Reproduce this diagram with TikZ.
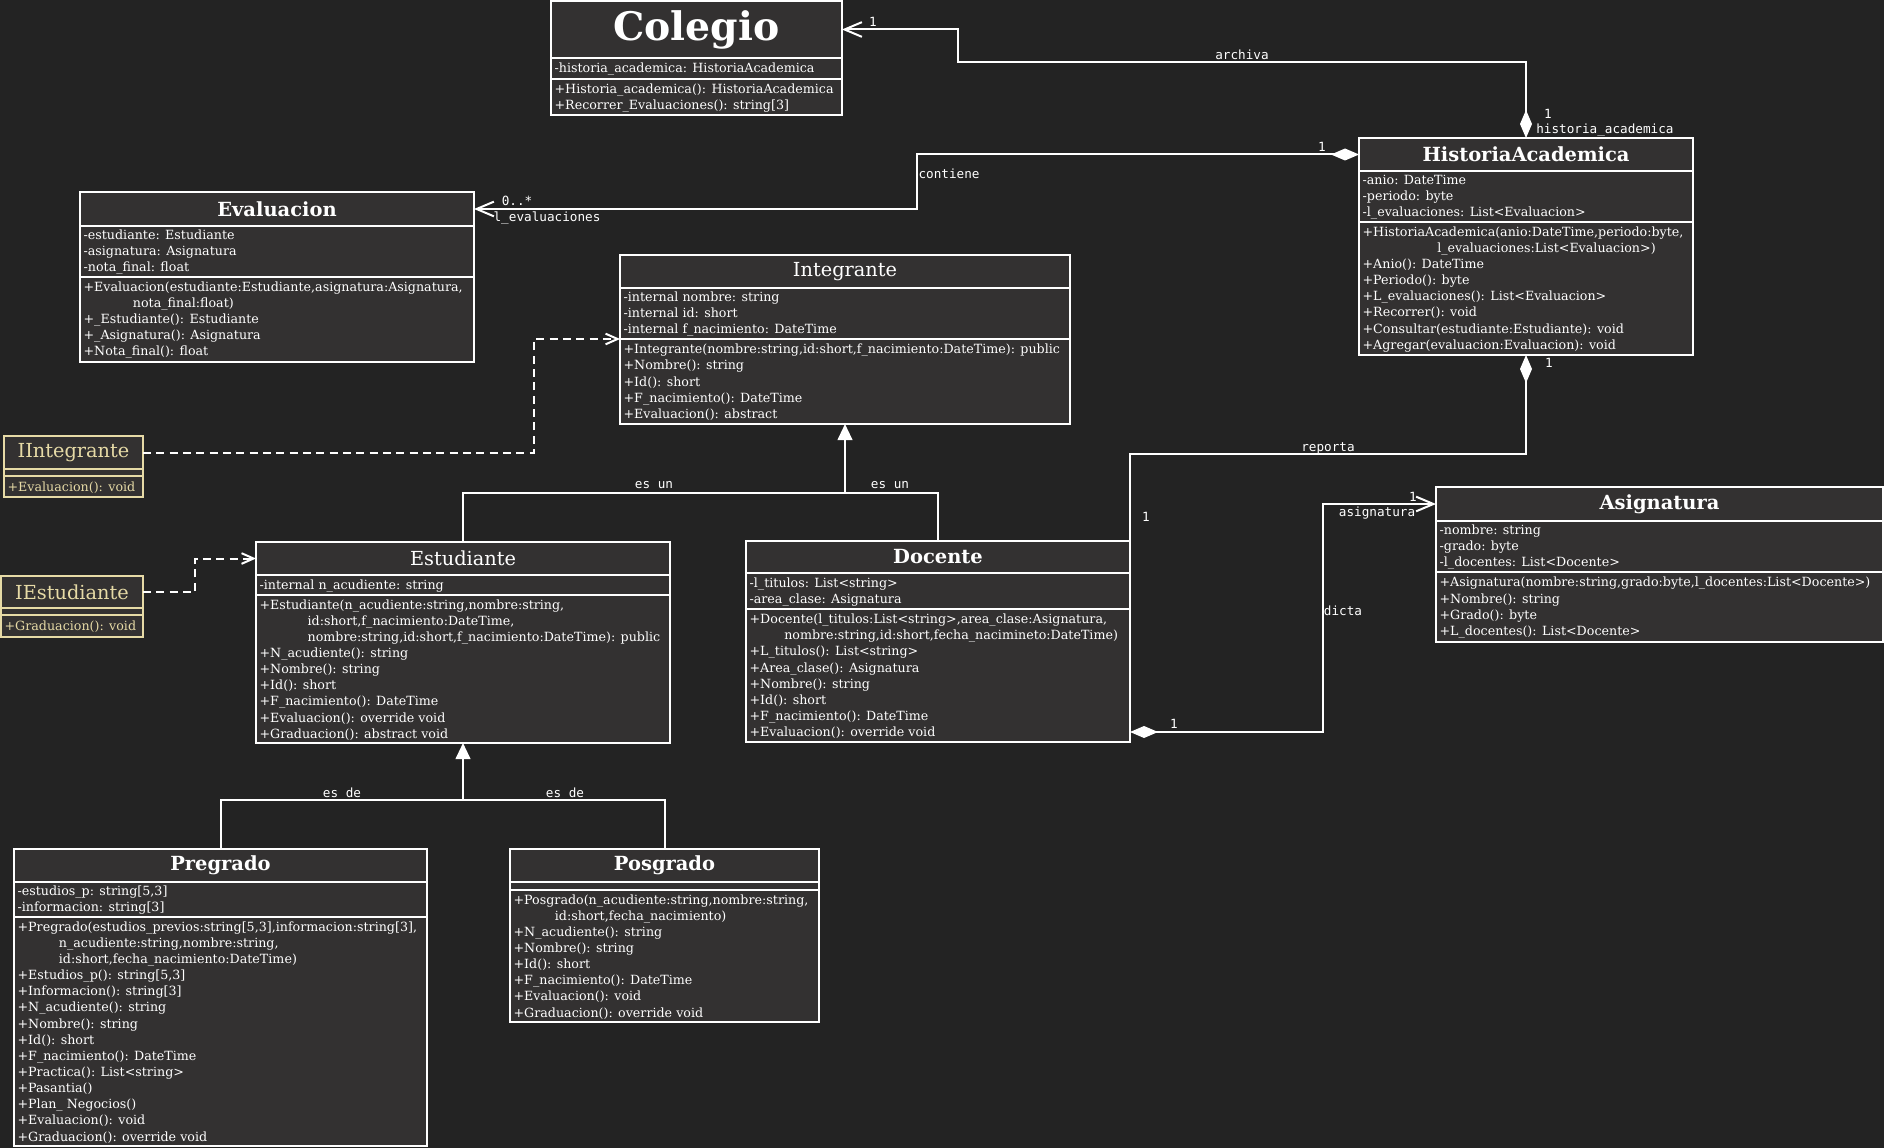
\documentclass[tikz,border=0pt]{standalone}
\usepackage{fontspec}
\setmainfont{DejaVu Serif}
\newfontfamily\monof{DejaVu Sans Mono}
\usetikzlibrary{arrows.meta,fit}
\definecolor{bgc}{HTML}{232323}
\definecolor{boxc}{HTML}{333131}
\definecolor{ifc}{HTML}{E6DAA6}
\newcommand\sect[6][white]{\node[sec, draw=#1, fit={(#3,#4) (#5,#6)}] (#2) {};}
\tikzset{
  sec/.style={fill=boxc, line width=1.5pt, inner sep=0pt, outer sep=0pt},
  mem/.style={anchor=west, align=left, inner sep=0pt, text=white, yshift=-0.6pt, font=\fontsize{9.5pt}{12.1pt}\selectfont},
  ttb/.style={text=white, inner sep=0pt, font=\fontsize{14.6pt}{16pt}\selectfont\bfseries},
  ttr/.style={text=white, inner sep=0pt, font=\fontsize{14.5pt}{16pt}\selectfont},
  big/.style={text=white, inner sep=0pt, font=\fontsize{29.5pt}{31pt}\selectfont\bfseries},
  lbl/.style={text=white, inner sep=0pt, font=\monof\fontsize{9.5pt}{11pt}\selectfont},
  conn/.style={draw=white, line width=1.5pt},
  diabarb/.style={{Diamond[length=21pt,width=9pt]}-{Straight Barb[length=13pt,width=11pt]}},
  diastart/.style={{Diamond[length=21pt,width=9pt]}-},
  gentip/.style={-{Triangle[length=12pt,width=11pt]}},
  dashconn/.style={draw=white, line width=1.5pt, dash pattern=on 6pt off 4pt, -{Straight Barb[length=9pt,width=8pt]}},
}
\begin{document}
\begin{tikzpicture}[x=0.75pt,y=-0.75pt]
\path[use as bounding box, fill=bgc] (0,0) rectangle (1884,1148);

\coordinate (j1) at (845,493);
\coordinate (j2) at (463,800);

% ---------- Colegio ----------
\sect{col-t}{551}{1}{842}{58}
\sect{col-a}{551}{58}{842}{79}
\sect{col-m}{551}{79}{842}{115}
\node[big] (col-n) at (col-t.center) {Colegio};
\node[mem] (col-ax) at ([xshift=2.5pt]col-a.west) {-historia\_academica: HistoriaAcademica};
\node[mem] (col-mx) at ([xshift=2.5pt]col-m.west) {+Historia\_academica(): HistoriaAcademica\\+Recorrer\_Evaluaciones(): string[3]};

% ---------- Evaluacion ----------
\sect{ev-t}{80}{192}{474}{226}
\sect{ev-a}{80}{226}{474}{277}
\sect{ev-m}{80}{277}{474}{362}
\node[ttb] (ev-n) at (ev-t.center) {Evaluacion};
\node[mem] (ev-ax) at ([xshift=2.5pt]ev-a.west) {-estudiante: Estudiante\\-asignatura: Asignatura\\-nota\_final: float};
\node[mem] (ev-mx) at ([xshift=2.5pt]ev-m.west) {+Evaluacion(estudiante:Estudiante,asignatura:Asignatura,\\\hspace*{37pt}nota\_final:float)\\+\_Estudiante(): Estudiante\\+\_Asignatura(): Asignatura\\+Nota\_final(): float};

% ---------- Integrante ----------
\sect{int-t}{620}{255}{1070}{288}
\sect{int-a}{620}{288}{1070}{339}
\sect{int-m}{620}{339}{1070}{424}
\node[ttr] (int-n) at (int-t.center) {Integrante};
\node[mem] (int-ax) at ([xshift=2.5pt]int-a.west) {-internal nombre: string\\-internal id: short\\-internal f\_nacimiento: DateTime};
\node[mem] (int-mx) at ([xshift=2.5pt]int-m.west) {+Integrante(nombre:string,id:short,f\_nacimiento:DateTime): public\\+Nombre(): string\\+Id(): short\\+F\_nacimiento(): DateTime\\+Evaluacion(): abstract};

% ---------- HistoriaAcademica ----------
\sect{ha-t}{1359}{138}{1693}{171}
\sect{ha-a}{1359}{171}{1693}{222}
\sect{ha-m}{1359}{222}{1693}{355}
\node[ttb] (ha-n) at (ha-t.center) {HistoriaAcademica};
\node[mem] (ha-ax) at ([xshift=2.5pt]ha-a.west) {-anio: DateTime\\-periodo: byte\\-l\_evaluaciones: List<Evaluacion>};
\node[mem] (ha-mx) at ([xshift=2.5pt]ha-m.west) {+HistoriaAcademica(anio:DateTime,periodo:byte,\\\hspace*{56pt}l\_evaluaciones:List<Evaluacion>)\\+Anio(): DateTime\\+Periodo(): byte\\+L\_evaluaciones(): List<Evaluacion>\\+Recorrer(): void\\+Consultar(estudiante:Estudiante): void\\+Agregar(evaluacion:Evaluacion): void};

% ---------- IIntegrante ----------
\sect[ifc]{iint-t}{4}{436}{143}{469}
\sect[ifc]{iint-a}{4}{469}{143}{476}
\sect[ifc]{iint-m}{4}{476}{143}{497}
\node[ttr, text=ifc] (iint-n) at (iint-t.center) {IIntegrante};
\node[mem, text=ifc] (iint-mx) at ([xshift=2.5pt]iint-m.west) {+Evaluacion(): void};

% ---------- IEstudiante ----------
\sect[ifc]{iest-t}{1}{576}{143}{608}
\sect[ifc]{iest-a}{1}{608}{143}{615}
\sect[ifc]{iest-m}{1}{615}{143}{637}
\node[ttr, text=ifc] (iest-n) at (iest-t.center) {IEstudiante};
\node[mem, text=ifc] (iest-mx) at ([xshift=2.5pt]iest-m.west) {+Graduacion(): void};

% ---------- Estudiante ----------
\sect{est-t}{256}{542}{670}{575}
\sect{est-a}{256}{575}{670}{595}
\sect{est-m}{256}{595}{670}{743}
\node[ttr] (est-n) at (est-t.center) {Estudiante};
\node[mem] (est-ax) at ([xshift=2.5pt]est-a.west) {-internal n\_acudiente: string};
\node[mem] (est-mx) at ([xshift=2.5pt]est-m.west) {+Estudiante(n\_acudiente:string,nombre:string,\\\hspace*{36pt}id:short,f\_nacimiento:DateTime,\\\hspace*{36pt}nombre:string,id:short,f\_nacimiento:DateTime): public\\+N\_acudiente(): string\\+Nombre(): string\\+Id(): short\\+F\_nacimiento(): DateTime\\+Evaluacion(): override void\\+Graduacion(): abstract void};

% ---------- Docente ----------
\sect{doc-t}{746}{541}{1130}{573}
\sect{doc-a}{746}{573}{1130}{609}
\sect{doc-m}{746}{609}{1130}{742}
\node[ttb] (doc-n) at (doc-t.center) {Docente};
\node[mem] (doc-ax) at ([xshift=2.5pt]doc-a.west) {-l\_titulos: List<string>\\-area\_clase: Asignatura};
\node[mem] (doc-mx) at ([xshift=2.5pt]doc-m.west) {+Docente(l\_titulos:List<string>,area\_clase:Asignatura,\\\hspace*{26pt}nombre:string,id:short,fecha\_nacimineto:DateTime)\\+L\_titulos(): List<string>\\+Area\_clase(): Asignatura\\+Nombre(): string\\+Id(): short\\+F\_nacimiento(): DateTime\\+Evaluacion(): override void};

% ---------- Asignatura ----------
\sect{as-t}{1436}{487}{1883}{521}
\sect{as-a}{1436}{521}{1883}{572}
\sect{as-m}{1436}{572}{1883}{642}
\node[ttb] (as-n) at (as-t.center) {Asignatura};
\node[mem] (as-ax) at ([xshift=2.5pt]as-a.west) {-nombre: string\\-grado: byte\\-l\_docentes: List<Docente>};
\node[mem] (as-mx) at ([xshift=2.5pt]as-m.west) {+Asignatura(nombre:string,grado:byte,l\_docentes:List<Docente>)\\+Nombre(): string\\+Grado(): byte\\+L\_docentes(): List<Docente>};

% ---------- Pregrado ----------
\sect{pre-t}{14}{849}{427}{882}
\sect{pre-a}{14}{882}{427}{917}
\sect{pre-m}{14}{917}{427}{1146}
\node[ttb] (pre-n) at (pre-t.center) {Pregrado};
\node[mem] (pre-ax) at ([xshift=2.5pt]pre-a.west) {-estudios\_p: string[5,3]\\-informacion: string[3]};
\node[mem] (pre-mx) at ([xshift=2.5pt]pre-m.west) {+Pregrado(estudios\_previos:string[5,3],informacion:string[3],\\\hspace*{31pt}n\_acudiente:string,nombre:string,\\\hspace*{31pt}id:short,fecha\_nacimiento:DateTime)\\+Estudios\_p(): string[5,3]\\+Informacion(): string[3]\\+N\_acudiente(): string\\+Nombre(): string\\+Id(): short\\+F\_nacimiento(): DateTime\\+Practica(): List<string>\\+Pasantia()\\+Plan\_ Negocios()\\+Evaluacion(): void\\+Graduacion(): override void};

% ---------- Posgrado ----------
\sect{pos-t}{510}{849}{819}{882}
\sect{pos-a}{510}{882}{819}{890}
\sect{pos-m}{510}{890}{819}{1022}
\node[ttb] (pos-n) at (pos-t.center) {Posgrado};
\node[mem] (pos-mx) at ([xshift=2.5pt]pos-m.west) {+Posgrado(n\_acudiente:string,nombre:string,\\\hspace*{31pt}id:short,fecha\_nacimiento)\\+N\_acudiente(): string\\+Nombre(): string\\+Id(): short\\+F\_nacimiento(): DateTime\\+Evaluacion(): void\\+Graduacion(): override void};

% ---------- connectors ----------
\draw[conn, diabarb] (ha-t.north) |- (958,62) |- (col-t.east);
\draw[conn, diabarb] (ha-t.west) -| (917,180) |- (ev-t.east);
\draw[conn, diastart] (ha-m.south) -- (1526,454) -| (doc-t.north east);
\draw[conn, diabarb] ([yshift=7.5pt]doc-m.south east) -| (1323,600) |- (as-t.west);
\draw[conn] (est-t.north) |- (j1);
\draw[conn] (doc-t.north) |- (j1);
\draw[conn, gentip] (j1) -- (int-m.south);
\draw[conn] (pre-t.north) |- (j2);
\draw[conn] (pos-t.north) |- (j2);
\draw[conn, gentip] (j2) -- (est-m.south);
\draw[dashconn] (iint-t.east) -| (534,400) |- (int-m.north west);
\draw[dashconn] (iest-t.east) -| (195,570) |- (est-t.west);

% ---------- labels ----------
\node[lbl] (l1) at (873,22) {1};
\node[lbl] (l2) at (1242,55) {archiva};
\node[lbl] (l3) at (1548,114) {1};
\node[lbl, anchor=west] (l4) at (1536,130) {historia\_academica};
\node[lbl] (l5) at (1322,147) {1};
\node[lbl] (l6) at (949,174) {contiene};
\node[lbl] (l7) at (517,201) {0..*};
\node[lbl] (l8) at (547,218) {l\_evaluaciones};
\node[lbl] (l9) at (1328,448) {reporta};
\node[lbl] (l10) at (1549,363) {1};
\node[lbl] (l11) at (1146,517) {1};
\node[lbl] (l12) at (1413,497) {1};
\node[lbl] (l13) at (1377,513) {asignatura};
\node[lbl] (l14) at (1343,611) {dicta};
\node[lbl] (l15) at (1174,724) {1};
\node[lbl] (l16) at (654,485) {es un};
\node[lbl] (l17) at (890,485) {es un};
\node[lbl] (l18) at (342,793) {es de};
\node[lbl] (l19) at (565,793) {es de};
\end{tikzpicture}
\end{document}
